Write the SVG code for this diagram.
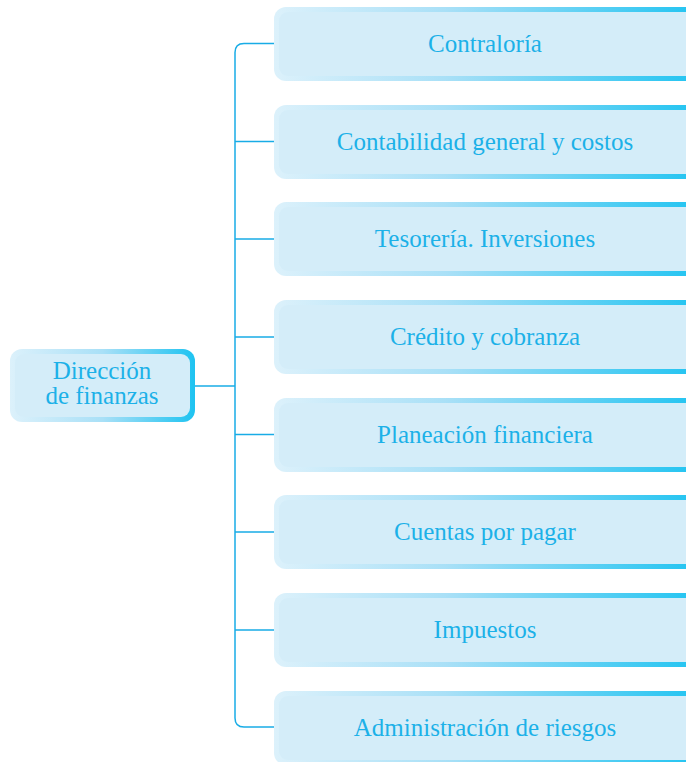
<svg xmlns="http://www.w3.org/2000/svg" width="686" height="762" viewBox="0 0 686 762">
<defs>
<linearGradient id="gb" x1="0" y1="0" x2="1" y2="0">
<stop offset="0" stop-color="#dcf1fb"/>
<stop offset="0.4" stop-color="#a9e0f7"/>
<stop offset="1" stop-color="#1ec3f1"/>
</linearGradient>
<linearGradient id="gl" x1="0" y1="0" x2="1" y2="0">
<stop offset="0" stop-color="#dcf1fb"/>
<stop offset="0.5" stop-color="#a9e0f7"/>
<stop offset="1" stop-color="#1ec3f1"/>
</linearGradient>
<style>
.o{fill:url(#gb)}
.i{fill:#d4edf9}
.t{font-family:"Liberation Serif","DejaVu Serif",serif;font-size:25px;fill:#1cb1e8;text-anchor:middle}
.c{fill:none;stroke:#18ace6;stroke-width:1.5}
</style>
</defs>
<g id="connectors">
<path class="c" d="M274,43.5 H244 Q235,43.5 235,52.5 V718 Q235,727 244,727 H274"/>
<path class="c" d="M235,141.5 H274 M235,239 H274 M235,337 H274 M235,434.5 H274 M235,532 H274 M235,630 H274"/>
<path class="c" d="M195,386 H235"/>
</g>
<g id="root">
<rect x="10" y="349" width="185" height="73" rx="12" fill="url(#gl)"/>
<rect x="15" y="354" width="175" height="63" rx="9" class="i"/>
<text class="t" x="102" y="379">Dirección</text>
<text class="t" x="102" y="404">de finanzas</text>
</g>
<g id="n1"><rect class="o" x="274" y="7" width="430" height="74" rx="12"/><rect class="i" x="279" y="12" width="425" height="64" rx="9"/><text class="t" x="485" y="52">Contraloría</text></g>
<g id="n2"><rect class="o" x="274" y="105" width="430" height="74" rx="12"/><rect class="i" x="279" y="110" width="425" height="64" rx="9"/><text class="t" x="485" y="150">Contabilidad general y costos</text></g>
<g id="n3"><rect class="o" x="274" y="202" width="430" height="74" rx="12"/><rect class="i" x="279" y="207" width="425" height="64" rx="9"/><text class="t" x="485" y="247">Tesorería. Inversiones</text></g>
<g id="n4"><rect class="o" x="274" y="300" width="430" height="74" rx="12"/><rect class="i" x="279" y="305" width="425" height="64" rx="9"/><text class="t" x="485" y="345">Crédito y cobranza</text></g>
<g id="n5"><rect class="o" x="274" y="398" width="430" height="74" rx="12"/><rect class="i" x="279" y="403" width="425" height="64" rx="9"/><text class="t" x="485" y="443">Planeación financiera</text></g>
<g id="n6"><rect class="o" x="274" y="495" width="430" height="74" rx="12"/><rect class="i" x="279" y="500" width="425" height="64" rx="9"/><text class="t" x="485" y="540">Cuentas por pagar</text></g>
<g id="n7"><rect class="o" x="274" y="593" width="430" height="74" rx="12"/><rect class="i" x="279" y="598" width="425" height="64" rx="9"/><text class="t" x="485" y="638">Impuestos</text></g>
<g id="n8"><rect class="o" x="274" y="691" width="430" height="74" rx="12"/><rect class="i" x="279" y="696" width="425" height="64" rx="9"/><text class="t" x="485" y="736">Administración de riesgos</text></g>
</svg>
